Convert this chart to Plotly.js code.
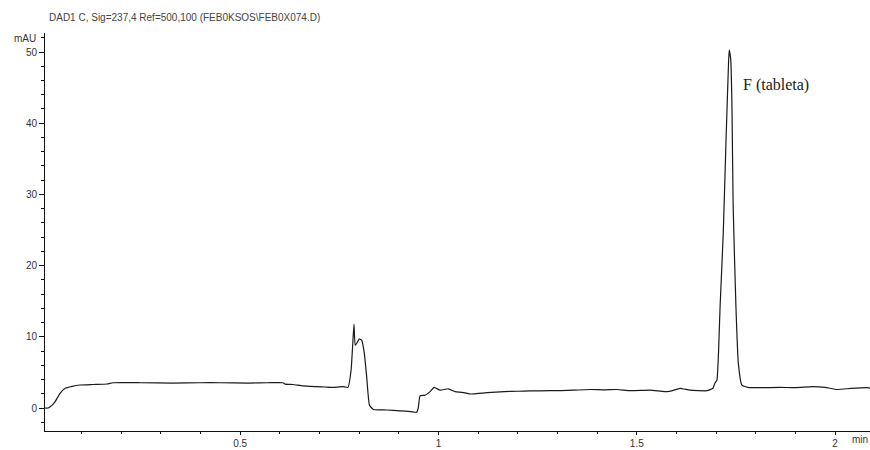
<!DOCTYPE html>
<html>
<head>
<meta charset="utf-8">
<script src="https://cdn.plot.ly/plotly-3.0.1.min.js"></script>
<style>html,body{margin:0;padding:0;background:#fff;}#chart{width:870px;height:450px;}</style>
</head>
<body>
<div id="chart"></div>
<script>
// Retention time (min)
const timeMin = [0.008,0.016,0.026,0.0335,0.041,0.046,0.0587,0.0764,0.0965,0.13,0.1646,0.1797,0.25,0.33,0.3986,0.45,0.52,0.57,0.608,0.6133,0.633,0.6586,0.694,0.715,0.734,0.759,0.772,0.7797,0.784,0.787,0.790,0.794,0.8006,0.8067,0.813,0.819,0.826,0.836,0.870,0.903,0.93,0.945,0.949,0.9536,0.966,0.979,0.989,1.004,1.025,1.042,1.06,1.080,1.10,1.123,1.166,1.20,1.231,1.281,1.31,1.339,1.382,1.42,1.450,1.483,1.534,1.555,1.576,1.59,1.609,1.634,1.677,1.692,1.697,1.702,1.706,1.710,1.718,1.725,1.731,1.733,1.737,1.740,1.743,1.750,1.756,1.765,1.780,1.810,1.861,1.90,1.944,1.975,2.005,2.04,2.080,2.088];
// Absorbance (mAU)
const absMAU = [0.0,0.0,0.4,0.9,1.6,2.06,2.77,3.05,3.23,3.3,3.37,3.55,3.55,3.5,3.55,3.55,3.5,3.55,3.55,3.35,3.3,3.1,3.0,2.95,2.9,3.0,2.9,5.3,9.1,11.8,8.8,9.1,9.7,9.5,7.7,4.4,0.4,-0.2,-0.28,-0.4,-0.5,-0.6,0.0,1.7,1.8,2.3,2.9,2.5,2.7,2.3,2.2,1.97,2.05,2.15,2.3,2.35,2.4,2.43,2.45,2.5,2.6,2.55,2.6,2.43,2.5,2.4,2.3,2.45,2.77,2.5,2.43,2.77,3.5,3.9,7.7,14.2,24.5,37.6,47.9,50.3,48.9,42.3,28.3,14.2,6.3,3.2,2.9,2.85,2.9,2.85,3.0,2.9,2.6,2.75,2.85,2.8];

const titleText = "DAD1 C, Sig=237,4 Ref=500,100 (FEB0KSOS\\FEB0X074.D)";
const peakLabel = "F (tableta)";
const peakLabelPos = [1.763, 45.4];

const trace = {
  x: timeMin, y: absMAU, type: 'scatter', mode: 'lines',
  line: {color: '#1a1a1a', width: 1.2, shape: 'spline', smoothing: 0.4}, hoverinfo: 'none'
};

const layout = {
  width: 870, height: 450,
  margin: {l: 45, r: 0, t: 33, b: 19},
  paper_bgcolor: '#fff', plot_bgcolor: '#fff',
  showlegend: false,
  font: {family: 'Arial, Liberation Sans, sans-serif', size: 11, color: '#333'},
  title: {text: titleText, x: 49/870, xanchor: 'left', xref: 'container',
          y: 1 - 17/450, yanchor: 'middle', yref: 'container',
          font: {size: 10, color: '#444', family: 'Arial, Liberation Sans, sans-serif'}},
  xaxis: {
    range: [0.008, 2.088], showgrid: false, zeroline: false,
    showline: true, linecolor: '#111', linewidth: 1,
    ticks: 'outside', ticklen: 3, tickcolor: '#111', tickwidth: 1,
    tick0: 0, dtick: 0.5,
    tickfont: {size: 10, color: '#333'},
    minor: {dtick: 0.1, tick0: 0, ticks: 'outside', ticklen: 2, tickcolor: '#111'}
  },
  yaxis: {
    range: [-3.23, 52.67], showgrid: false, zeroline: false,
    showline: true, linecolor: '#111', linewidth: 1,
    ticks: 'outside', ticklen: 5, tickcolor: '#111', tickwidth: 1,
    tick0: 0, dtick: 10,
    tickfont: {size: 10, color: '#333'},
    minor: {dtick: 2, tick0: 0, ticks: 'outside', ticklen: 3, tickcolor: '#111'}
  },
  annotations: [
    {text: peakLabel, x: peakLabelPos[0], y: peakLabelPos[1], xref: 'x', yref: 'y',
     xanchor: 'left', yanchor: 'middle', showarrow: false,
     font: {family: 'Times New Roman, Liberation Serif, serif', size: 16, color: '#222'}},
    {text: 'mAU', xref: 'paper', yref: 'paper', x: -33/825, y: 1 - 5/398,
     xanchor: 'left', yanchor: 'middle', showarrow: false,
     font: {size: 10, color: '#333'}},
    {text: 'min', xref: 'paper', yref: 'paper', x: 1, y: -8/398,
     xanchor: 'right', yanchor: 'middle', showarrow: false,
     font: {size: 10, color: '#333'}}
  ]
};

Plotly.newPlot('chart', [trace], layout, {staticPlot: true, displayModeBar: false});
</script>
</body>
</html>
